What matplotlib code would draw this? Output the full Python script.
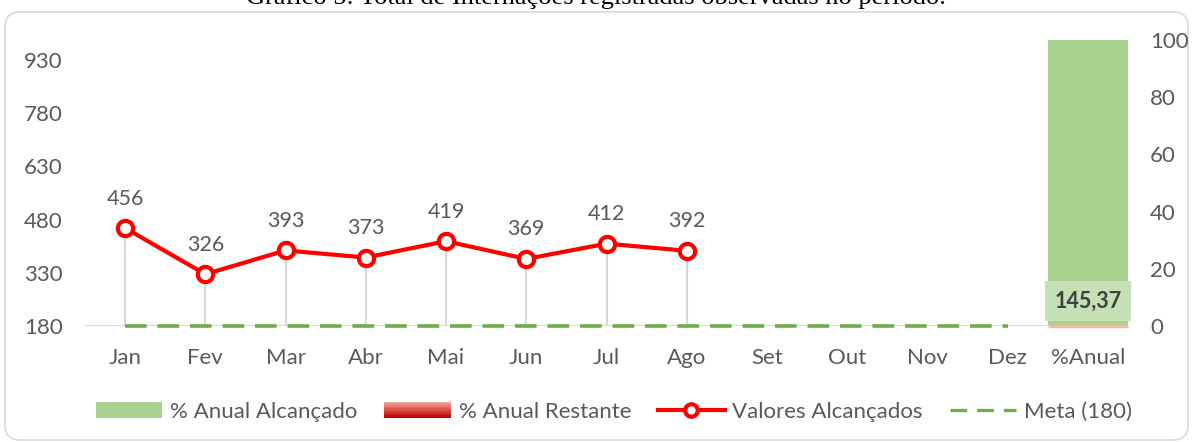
import numpy as np
import matplotlib
matplotlib.use("Agg")
import matplotlib.pyplot as plt
from matplotlib.patches import FancyBboxPatch, Rectangle
from matplotlib.legend_handler import HandlerBase
from matplotlib.lines import Line2D
from matplotlib.colors import to_rgb

# Data
meses = ["Jan", "Fev", "Mar", "Abr", "Mai", "Jun", "Jul", "Ago",
         "Set", "Out", "Nov", "Dez", "%Anual"]
valores = [456, 326, 393, 373, 419, 369, 412, 392]
meta = 180
pct_alcancado = 145.37
pct_alcancado_bar = 100
pct_restante = 0
left_ticks = [180, 330, 480, 630, 780, 930]
right_ticks = [0, 20, 40, 60, 80, 100]

TXT = "#595959"
GREEN = "#a9d18e"
RED = "#ff0000"
META_C = "#70ad47"
FONT = "Lato"

plt.rcParams['font.family'] = [FONT, 'DejaVu Sans']


class GradientHandler(HandlerBase):
    def create_artists(self, legend, orig_handle, xdescent, ydescent,
                       width, height, fontsize, trans):
        top = np.array(to_rgb("#f4a595"))
        bot = np.array(to_rgb("#c00000"))
        n = 12
        arts = []
        for i in range(n):
            c = top + (bot - top) * i / (n - 1)
            r = Rectangle((-xdescent, -ydescent + height * (1 - (i + 1) / n)),
                          width, height / n + 0.3, facecolor=c, edgecolor='none',
                          transform=trans)
            arts.append(r)
        return arts


fig = plt.figure(figsize=(11.92, 4.42), dpi=100)

# rounded chart border
border = FancyBboxPatch((0.05, 0.02), 11.83, 4.28,
                        boxstyle="round,pad=0,rounding_size=0.15",
                        transform=fig.dpi_scale_trans, facecolor='white',
                        edgecolor='#d9d9d9', linewidth=1.2, zorder=-10)
fig.patches.append(border)

fig.text(0.5, 1 - 4 / 442, "Gráfico 5: Total de Internações registradas observadas no período.",
         ha='center', va='baseline', fontsize=19, family='Liberation Serif', color='black')

ax = fig.add_axes([85 / 1192, 1 - 326 / 442, (1128 - 85) / 1192, (326 - 40) / 442])
ax2 = ax.twinx()

x = np.arange(len(meses))
xv = np.arange(len(valores))

# drop lines
ax.vlines(xv, meta, valores, color='#d9d9d9', linewidth=1.5, zorder=1)
# axis line
ax.axhline(meta, color='#d9d9d9', linewidth=1.5, zorder=1)
# meta
ax.plot(x[:12], [meta] * 12, color=META_C, linewidth=2.6, dashes=(6, 3),
        zorder=2.5, clip_on=False)
# values
ax.plot(xv, valores, color=RED, linewidth=3, marker='o', markersize=11,
        markerfacecolor='white', markeredgecolor=RED, markeredgewidth=3, zorder=3)
for xi, v in zip(xv, valores):
    ax.annotate(str(v), (xi, v), xytext=(0, 14), textcoords='offset points',
                ha='center', va='bottom', fontsize=15.5, color=TXT)

ax.set_xlim(-0.5, len(meses) - 0.5)
ax.set_ylim(180, 986)
ax.set_yticks(left_ticks)
ax.set_xticks(x)
ax.set_xticklabels(meses)
ax.tick_params(axis='y', length=0, pad=16, labelsize=16, labelcolor=TXT)
ax.tick_params(axis='x', length=0, pad=16, labelsize=16, labelcolor=TXT)
for s in ax.spines.values():
    s.set_visible(False)

# bars on the right axis
ax2.bar(x[12], pct_alcancado_bar, width=1.0, color=GREEN, zorder=2)
ax2.bar(x[12], pct_restante, width=1.0, bottom=0, color='#f8b4a4',
        edgecolor='#f8b4a4', linewidth=2.5, zorder=3, clip_on=False)
ax2.annotate(f"{pct_alcancado:.2f}".replace('.', ','), (x[12], 0), xytext=(0, 18),
             textcoords='offset points', ha='center', va='center', fontsize=15.5,
             fontweight='bold', color='#404040',
             bbox=dict(boxstyle='square,pad=0.42', facecolor='#c5e0b4', edgecolor='none'))
ax2.set_ylim(0, 100)
ax2.set_yticks(right_ticks)
ax2.tick_params(axis='y', length=0, pad=16, labelsize=16, labelcolor=TXT)
for s in ax2.spines.values():
    s.set_visible(False)

# legend
h1 = Rectangle((0, 0), 1, 1, facecolor=GREEN, edgecolor='none')
h2 = Rectangle((0, 0), 1, 1, facecolor='#e06060', edgecolor='none')
h3 = Line2D([], [], color=RED, linewidth=3, marker='o', markersize=9,
            markerfacecolor='white', markeredgecolor=RED, markeredgewidth=3)
h4 = Line2D([], [], color=META_C, linewidth=2.4, dashes=(5, 3))
fig.legend([h1, h2, h3, h4],
           ["% Anual Alcançado", "% Anual Restante", "Valores Alcançados", "Meta (180)"],
           handler_map={h2: GradientHandler()},
           loc='center', bbox_to_anchor=(0.515, 1 - 412 / 442), ncol=4, frameon=False,
           fontsize=16, labelcolor=TXT, handlelength=3.0, handleheight=0.75,
           handletextpad=0.35, columnspacing=1.2)

fig.savefig("out.png", dpi=100)
